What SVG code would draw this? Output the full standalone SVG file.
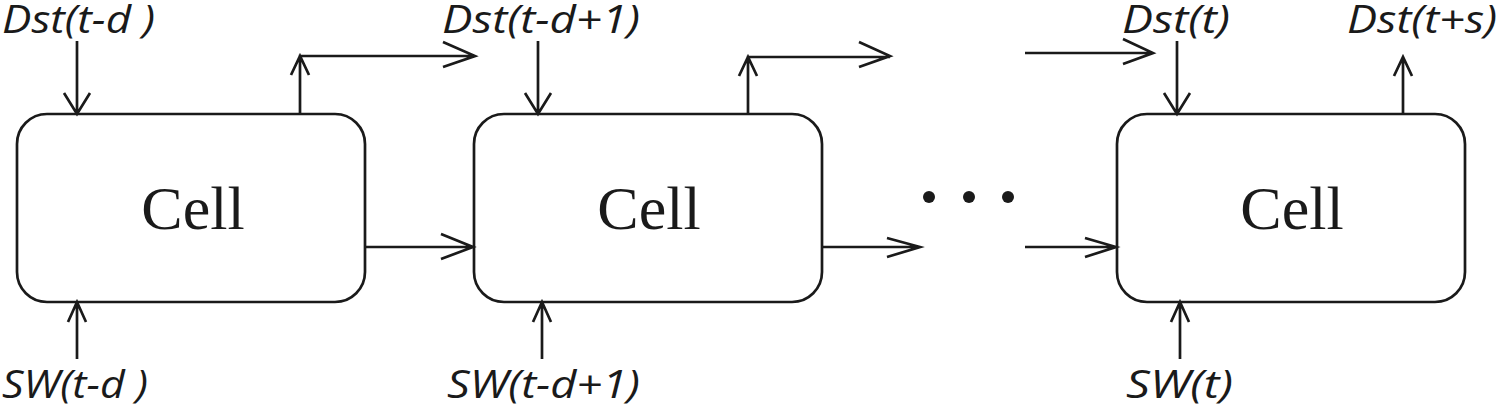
<svg xmlns="http://www.w3.org/2000/svg" width="1500" height="408" viewBox="0 0 1500 408">
<style>
.box{fill:#fff;stroke:#1a1a1a;stroke-width:2.7}
.ln{fill:none;stroke:#1a1a1a;stroke-width:2.7;stroke-linecap:butt;stroke-linejoin:miter}
.cell{font-family:"Liberation Serif","Times New Roman",serif;font-size:62px;fill:#1a1a1a;text-anchor:middle}
.lbl{font-family:"Open Sans","Noto Sans","DejaVu Sans",sans-serif;font-style:italic;font-size:38px;fill:#1a1a1a}
</style>
<rect width="1500" height="408" fill="#fff"/>
<g id="cell1">
<rect class="box" x="17" y="114" width="348" height="188" rx="30" ry="30"/>
<text class="cell" x="193" y="229">Cell</text>
</g>
<g id="cell2">
<rect class="box" x="474" y="114" width="348" height="188" rx="30" ry="30"/>
<text class="cell" x="649" y="229">Cell</text>
</g>
<g id="cell3">
<rect class="box" x="1117" y="114" width="348" height="188" rx="30" ry="30"/>
<text class="cell" x="1292" y="229">Cell</text>
</g>
<g id="dots" fill="#1a1a1a">
<circle cx="929" cy="197" r="6"/>
<circle cx="969" cy="197" r="6"/>
<circle cx="1008" cy="197" r="6"/>
</g>
<g id="labels">
<text class="lbl" x="2" y="33" textLength="153" lengthAdjust="spacingAndGlyphs">Dst(t-d )</text>
<text class="lbl" x="442" y="33" textLength="198" lengthAdjust="spacingAndGlyphs">Dst(t-d+1)</text>
<text class="lbl" x="1122" y="33" textLength="108" lengthAdjust="spacingAndGlyphs">Dst(t)</text>
<text class="lbl" x="1347" y="33" textLength="150" lengthAdjust="spacingAndGlyphs">Dst(t+s)</text>
<text class="lbl" x="2" y="398" textLength="146" lengthAdjust="spacingAndGlyphs">SW(t-d )</text>
<text class="lbl" x="447" y="398" textLength="193" lengthAdjust="spacingAndGlyphs">SW(t-d+1)</text>
<text class="lbl" x="1126" y="398" textLength="107" lengthAdjust="spacingAndGlyphs">SW(t)</text>
</g>
<g id="connectors" class="ln">
<path class="ln" d="M77 41V114M64 93L77 114L90 93"/>
<path class="ln" d="M538 41V114M525 93L538 114L551 93"/>
<path class="ln" d="M1177 41V114M1164 93L1177 114L1190 93"/>
<path class="ln" d="M77 359V302M68 322L77 302L86 322"/>
<path class="ln" d="M542 359V302M533 322L542 302L551 322"/>
<path class="ln" d="M1180 359V302M1171 322L1180 302L1189 322"/>
<path class="ln" d="M300 114V56H475M291 75L300 56L309 75M443 42L475 56L443 67"/>
<path class="ln" d="M748 114V57H890M739 76L748 57L757 76M859 42L890 56L859 67"/>
<path class="ln" d="M1025 53H1153M1123 39L1153 53L1123 64"/>
<path class="ln" d="M1403 114V57M1394 76L1403 57L1412 76"/>
<path class="ln" d="M365 247H473M441 234L473 247L441 259"/>
<path class="ln" d="M822 247H920M887 238L920 247L887 257"/>
<path class="ln" d="M1025 247H1116M1085 238L1116 247L1085 257"/>
</g>
</svg>
